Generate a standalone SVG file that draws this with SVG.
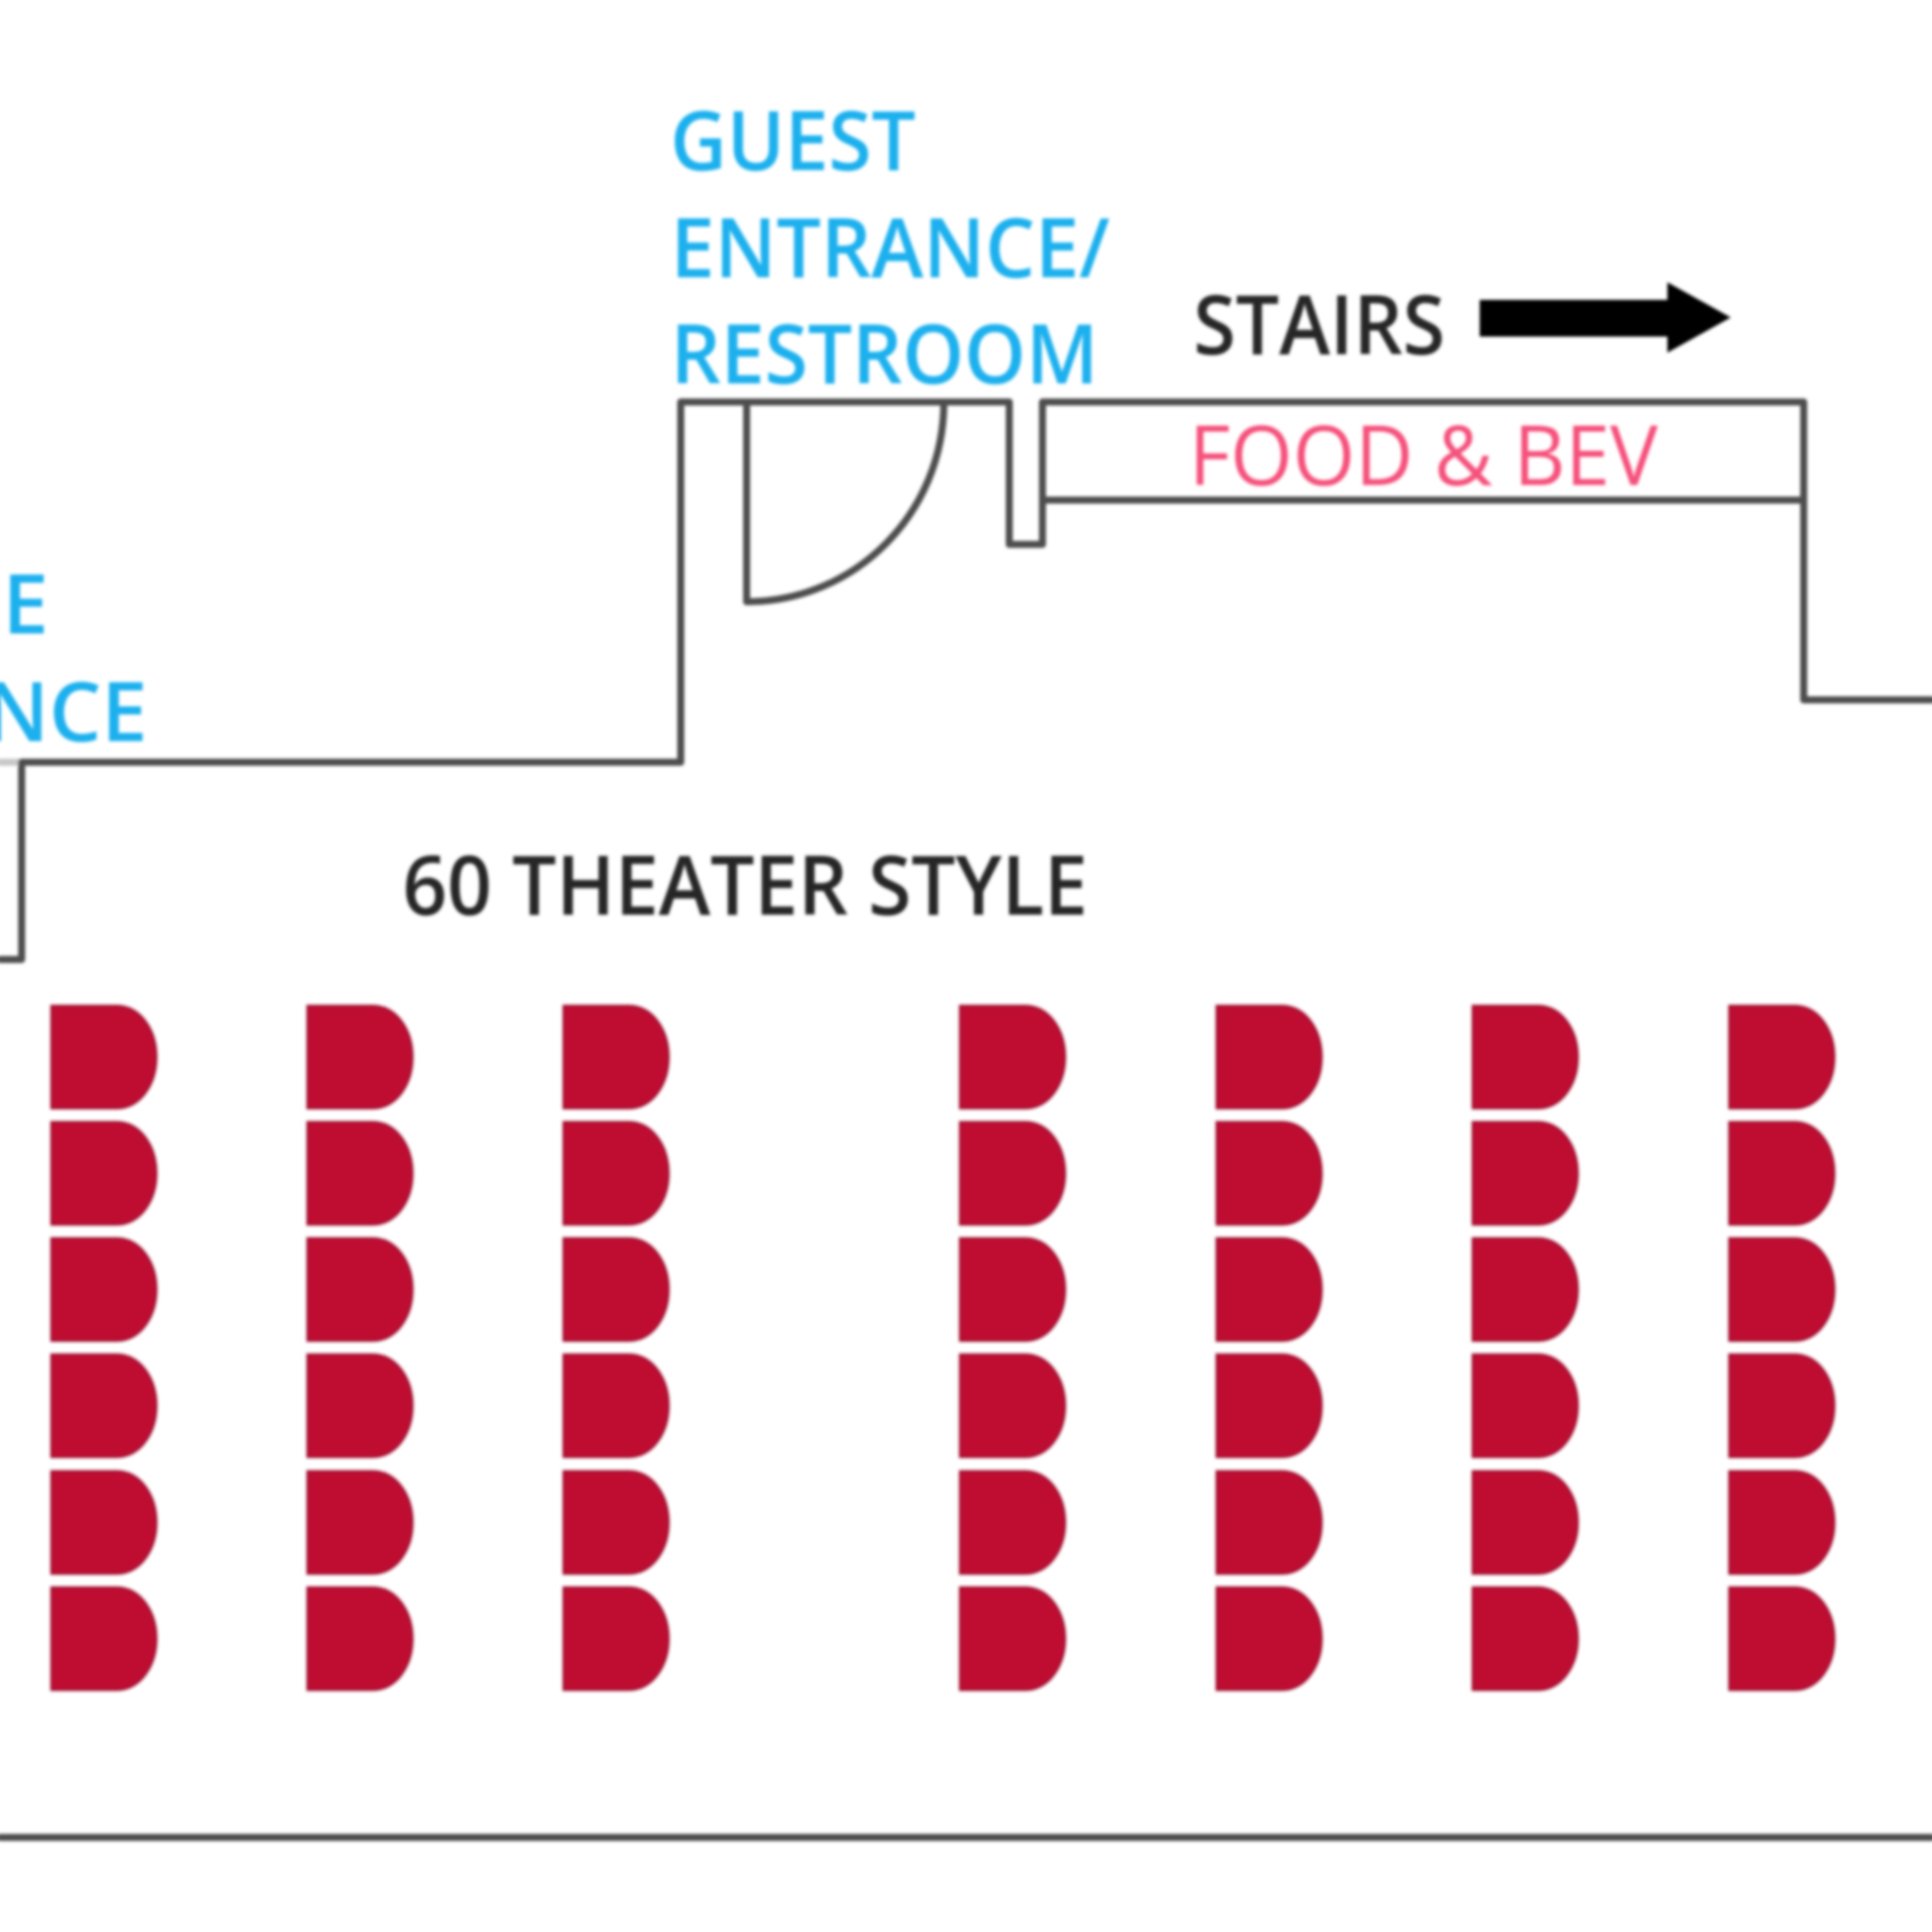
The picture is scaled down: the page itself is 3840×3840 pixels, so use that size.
<svg xmlns="http://www.w3.org/2000/svg" width="3840" height="3840" viewBox="0 0 3840 3840">
<style>
.wall{fill:none;stroke:#4d4d4d;stroke-width:14;stroke-linejoin:round;stroke-linecap:round}
.t{font-family:"Open Sans","Noto Sans","Liberation Sans",sans-serif;font-size:164px}
.blue{fill:#1fb0ee;font-weight:600}
.dark{fill:#262626;font-weight:600}
.pink{fill:#f5517c;font-weight:500}
.seat{fill:#bf0a30;stroke:#9c1230;stroke-width:4}
</style>
<defs>
<filter id="soft" x="-5%" y="-5%" width="110%" height="110%"><feGaussianBlur stdDeviation="3.2"/></filter>
<path id="s" d="M0 0H130C177 0 209 48 209 102C209 156 177 204 130 204H0Z"/>
</defs>
<rect width="3840" height="3840" fill="#fff"/>
<g filter="url(#soft)">
<g id="connectors">
<path class="wall" d="M43 1515H1353V799H2006V1082H2072V799H3585V1391H3840"/>
<path class="wall" style="stroke:#c8c8c8" d="M0 1515H37"/>
<path class="wall" d="M43 1515V1907H0"/>
<path class="wall" d="M2072 994H3585"/>
<path class="wall" d="M1484 799V1196C1700 1196 1876 1020 1876 799"/>
<path class="wall" d="M0 3652H3840"/>
</g>
<g id="labels">
<text class="t blue" x="1332" y="338" textLength="488" lengthAdjust="spacingAndGlyphs">GUEST</text>
<text class="t blue" x="1333" y="551" textLength="873" lengthAdjust="spacingAndGlyphs">ENTRANCE/</text>
<text class="t blue" x="1333" y="762" textLength="850" lengthAdjust="spacingAndGlyphs">RESTROOM</text>
<text class="t blue" x="5" y="1259">E</text>
<text class="t blue" x="293" y="1473" text-anchor="end">NCE</text>
<text class="t dark" x="2372" y="704" textLength="500" lengthAdjust="spacingAndGlyphs">STAIRS</text>
<text class="t pink" x="2363" y="964" textLength="932" lengthAdjust="spacingAndGlyphs">FOOD &amp; BEV</text>
<text class="t dark" x="800" y="1818" textLength="1362" lengthAdjust="spacingAndGlyphs">60 THEATER STYLE</text>
</g>
<g id="stairs-arrow"><path d="M2941 596H3314V561L3440 631L3314 701V669H2941Z" fill="#000"/></g>
<g id="seats">
<g id="col1"><use href="#s" class="seat" x="102" y="1999"/><use href="#s" class="seat" x="102" y="2230"/><use href="#s" class="seat" x="102" y="2461"/><use href="#s" class="seat" x="102" y="2692"/><use href="#s" class="seat" x="102" y="2924"/><use href="#s" class="seat" x="102" y="3155"/></g>
<g id="col2"><use href="#s" class="seat" x="611" y="1999"/><use href="#s" class="seat" x="611" y="2230"/><use href="#s" class="seat" x="611" y="2461"/><use href="#s" class="seat" x="611" y="2692"/><use href="#s" class="seat" x="611" y="2924"/><use href="#s" class="seat" x="611" y="3155"/></g>
<g id="col3"><use href="#s" class="seat" x="1120" y="1999"/><use href="#s" class="seat" x="1120" y="2230"/><use href="#s" class="seat" x="1120" y="2461"/><use href="#s" class="seat" x="1120" y="2692"/><use href="#s" class="seat" x="1120" y="2924"/><use href="#s" class="seat" x="1120" y="3155"/></g>
<g id="col4"><use href="#s" class="seat" x="1908" y="1999"/><use href="#s" class="seat" x="1908" y="2230"/><use href="#s" class="seat" x="1908" y="2461"/><use href="#s" class="seat" x="1908" y="2692"/><use href="#s" class="seat" x="1908" y="2924"/><use href="#s" class="seat" x="1908" y="3155"/></g>
<g id="col5"><use href="#s" class="seat" x="2418" y="1999"/><use href="#s" class="seat" x="2418" y="2230"/><use href="#s" class="seat" x="2418" y="2461"/><use href="#s" class="seat" x="2418" y="2692"/><use href="#s" class="seat" x="2418" y="2924"/><use href="#s" class="seat" x="2418" y="3155"/></g>
<g id="col6"><use href="#s" class="seat" x="2927" y="1999"/><use href="#s" class="seat" x="2927" y="2230"/><use href="#s" class="seat" x="2927" y="2461"/><use href="#s" class="seat" x="2927" y="2692"/><use href="#s" class="seat" x="2927" y="2924"/><use href="#s" class="seat" x="2927" y="3155"/></g>
<g id="col7"><use href="#s" class="seat" x="3437" y="1999"/><use href="#s" class="seat" x="3437" y="2230"/><use href="#s" class="seat" x="3437" y="2461"/><use href="#s" class="seat" x="3437" y="2692"/><use href="#s" class="seat" x="3437" y="2924"/><use href="#s" class="seat" x="3437" y="3155"/></g>
</g>
</g>
</svg>
